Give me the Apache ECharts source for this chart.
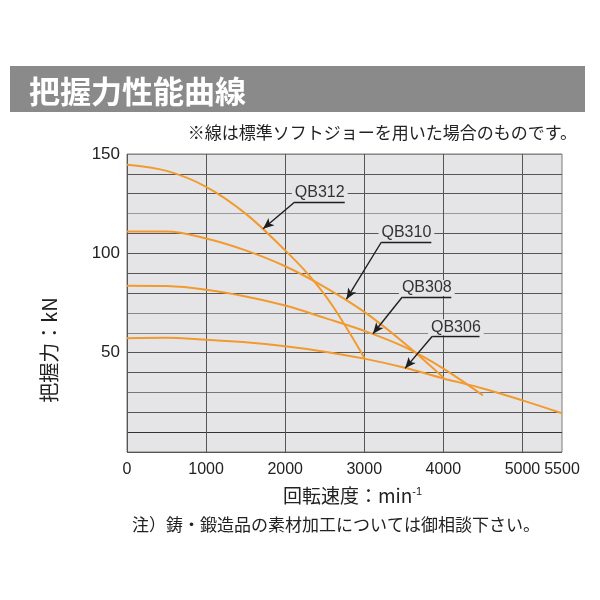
<!DOCTYPE html>
<html><head><meta charset="utf-8">
<script src="https://cdn.jsdelivr.net/npm/echarts@6/dist/echarts.min.js"></script>
<style>html,body{margin:0;padding:0;background:#fff}#c{width:600px;height:600px}</style>
</head><body><div id="c"></div>
<script>
// ---- data (rpm -> kN) ----
const qb312Speeds = [0, 500, 1000, 1500, 2000, 2300, 2600, 3000];
const qb312Force  = [144.6, 141.5, 133.5, 120, 101.5, 89, 73.5, 47.5];
const qb310Speeds = [0, 500, 1000, 1500, 2000, 2500, 3000, 3500, 4000];
const qb310Force  = [111, 111, 107.5, 101.5, 93.5, 83, 70.5, 55, 37.5];
const qb308Speeds = [0, 500, 1000, 1500, 2000, 2500, 3000, 3500, 4000, 4500];
const qb308Force  = [83.7, 83.5, 81.7, 78.3, 73.7, 67.5, 61, 53, 42, 28.5];
const qb306Speeds = [0, 500, 1000, 1500, 2000, 2500, 3000, 3500, 4000, 4500, 5000, 5500];
const qb306Force  = [57.3, 57.5, 56.5, 55.2, 53.2, 50.5, 47, 42.5, 37, 32, 26, 19.5];
const modelNames  = ['QB312', 'QB310', 'QB308', 'QB306'];
const xTickLabels = [0, 1000, 2000, 3000, 4000, 5000, 5500];
const yTickLabels = [50, 100, 150];
// callout anchors in data space: arrow tip on curve, elbow, end of underline
const calloutTip   = [[1721, 112.4], [2775, 76.9], [3110, 59.5], [3516, 42.1]];
const calloutElbow = [[2121, 125.8], [3217, 105.7], [3481, 78], [3860, 58.3]];
const calloutEnd   = [[2753, 125.8], [3848, 105.7], [4100, 78], [4457, 58.3]];

const curves = [
  [qb312Speeds, qb312Force],
  [qb310Speeds, qb310Force],
  [qb308Speeds, qb308Force],
  [qb306Speeds, qb306Force]
];
const PLOT_BG = '#e5e5e7';
const ORANGE = '#f29a2e';
const CJK = '"Noto Sans CJK JP", sans-serif';
const NUM = '"Liberation Sans", Arial, sans-serif';

const series = curves.map((c, i) => ({
  name: modelNames[i],
  type: 'line',
  data: c[0].map((x, j) => [x, c[1][j]]),
  showSymbol: false,
  smooth: 0.35,
  lineStyle: { color: ORANGE, width: 2 },
  itemStyle: { color: ORANGE },
  z: 3,
  markLine: {
    silent: true,
    animation: false,
    lineStyle: { color: '#1e1e1e', width: 1.4, type: 'solid' },
    data: [
      [
        { coord: calloutElbow[i], symbol: 'none' },
        { coord: calloutTip[i], symbol: 'arrow', symbolSize: [7, 11] }
      ],
      [
        { coord: calloutElbow[i], symbol: 'none',
          label: { show: true, formatter: modelNames[i], position: 'insideMiddleTop',
            distance: 1, color: '#333', fontSize: 16, fontFamily: NUM,
            backgroundColor: PLOT_BG, padding: [0, 3, 0, 3] } },
        { coord: calloutEnd[i], symbol: 'none' }
      ]
    ],
    label: { show: false }
  }
}));

const hColors = ['#555', '#333', '#555', '#777', '#555', '#555', '#888', '#888',
                 '#555', '#555', '#555', '#555', '#9a9a9a', '#555', '#555', '#888'];
// vertical lines only every 1000 (ticks every 500)
const vColors = ['#555', 'rgba(0,0,0,0)'];

const option = {
  animation: false,
  backgroundColor: '#fff',
  graphic: [
    { type: 'rect', left: 10, top: 66, shape: { width: 575, height: 46 },
      style: { fill: '#8a8a8a' }, z: 0 }
  ],
  title: [
    { text: '把握力性能曲線', left: 24, top: 71, z: 5,
      textStyle: { color: '#fff', fontSize: 31, fontWeight: 'bold', fontFamily: CJK } },
    { text: '※線は標準ソフトジョーを用いた場合のものです。', right: 18, top: 119,
      textStyle: { color: '#222', fontSize: 17, fontWeight: 'normal', fontFamily: CJK } },
    { text: '注）鋳・鍛造品の素材加工については御相談下さい。', left: 127, top: 511,
      textStyle: { color: '#222', fontSize: 17, fontWeight: 'normal', fontFamily: CJK } }
  ],
  grid: {
    left: 127, right: 38, top: 154, bottom: 148,
    show: true, backgroundColor: PLOT_BG, borderColor: '#7a7a7a', borderWidth: 1
  },
  xAxis: {
    type: 'value', min: 0, max: 5500, interval: 500,
    axisLine: { show: false }, axisTick: { show: false },
    splitLine: { show: true, lineStyle: { color: vColors, width: 1 } },
    axisLabel: {
      margin: 10, color: '#222', fontSize: 16, fontFamily: NUM, hideOverlap: false,
      showMaxLabel: true, showMinLabel: true,
      formatter: v => (xTickLabels.indexOf(v) >= 0 ? String(v) : '')
    },
    name: '{a|回転速度：min}{s|-1}',
    nameLocation: 'middle', nameGap: 34,
    nameTextStyle: {
      padding: [0, 0, 0, 16],
      rich: {
        a: { fontSize: 19, color: '#222', fontFamily: CJK },
        s: { fontSize: 11, color: '#222', fontFamily: NUM, verticalAlign: 'top', padding: [0, 0, 8, 0] }
      }
    }
  },
  yAxis: {
    type: 'value', min: 0, max: 150, interval: 10,
    axisLine: { show: false }, axisTick: { show: false },
    splitLine: { show: true, lineStyle: { color: hColors, width: 1 } },
    axisLabel: {
      margin: 7, color: '#222', fontSize: 17, fontFamily: NUM,
      formatter: v => (yTickLabels.indexOf(v) >= 0 ? String(v) : '')
    },
    name: '把握力：kN',
    nameLocation: 'middle', nameRotate: 90, nameGap: 68,
    nameTextStyle: { fontSize: 20, color: '#222', fontFamily: CJK, padding: [0, 94, 0, 0] }
  },
  series: series
};

const chart = echarts.init(document.getElementById('c'), null, { renderer: 'canvas' });
chart.setOption(option);
</script>
</body></html>
